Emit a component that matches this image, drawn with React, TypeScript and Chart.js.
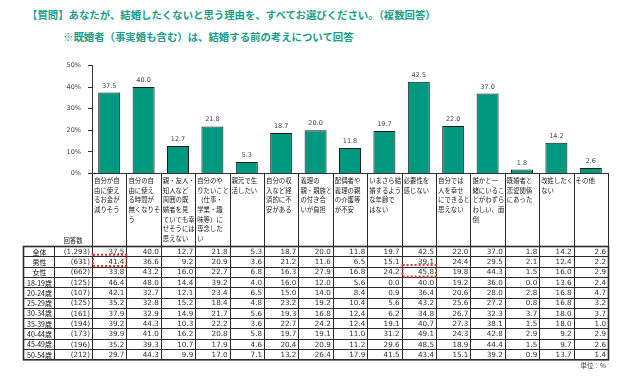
import React, { useEffect, useRef } from 'react';
import { Chart, registerables } from 'chart.js';
Chart.register(...registerables);

const categoryLines: string[][] = [
  ['自分が自', '由に使え', 'るお金が', '減りそう'],
  ['自分の自', '由に使え', 'る時間が', '無くなりそ', 'う'],
  ['親・友人・', '知人など', '周囲の既', '婚者を見', 'ていても幸', 'せそうには', '思えない'],
  ['自分のや', 'りたいこと', '（仕事・', '学業・趣', '味等）に', '専念した', 'い'],
  ['親元で生', '活したい'],
  ['自分の収', '入など経', '済的に不', '安がある'],
  ['義理の', '親・親族と', 'の付き合', 'いが負担'],
  ['配偶者や', '義理の親', 'の介護等', 'が不安'],
  ['いまさら結', '婚するよう', 'な年齢で', 'はない'],
  ['必要性を', '感じない'],
  ['自分では', '人を幸せ', 'にできると', '思えない'],
  ['誰かと一', '緒にいるこ', 'とがわずら', 'わしい、面', '倒'],
  ['既婚者と', '恋愛関係', 'にあった'],
  ['改姓したく', 'ない'],
  ['その他'],
];

const rowLabels = ['全体', '男性', '女性', '18-19歳', '20-24歳', '25-29歳', '30-34歳', '35-39歳', '40-44歳', '45-49歳', '50-54歳'];
const rowCounts = ['(1,293)', '(631)', '(662)', '(125)', '(107)', '(125)', '(161)', '(194)', '(173)', '(196)', '(212)'];

const rowAll = [37.5, 40.0, 12.7, 21.8, 5.3, 18.7, 20.0, 11.8, 19.7, 42.5, 22.0, 37.0, 1.8, 14.2, 2.6];
const rowMale = [41.4, 36.6, 9.2, 20.9, 3.6, 21.2, 11.6, 6.5, 15.1, 39.1, 24.4, 29.5, 2.1, 12.4, 2.2];
const rowFemale = [33.8, 43.2, 16.0, 22.7, 6.8, 16.3, 27.9, 16.8, 24.2, 45.8, 19.8, 44.3, 1.5, 16.0, 2.9];
const row18_19 = [46.4, 48.0, 14.4, 39.2, 4.0, 16.0, 12.0, 5.6, 0.0, 40.0, 19.2, 36.0, 0.0, 13.6, 2.4];
const row20_24 = [42.1, 32.7, 12.1, 23.4, 6.5, 15.0, 14.0, 8.4, 0.9, 36.4, 20.6, 28.0, 2.8, 16.8, 4.7];
const row25_29 = [35.2, 32.8, 15.2, 18.4, 4.8, 23.2, 19.2, 10.4, 5.6, 43.2, 25.6, 27.2, 0.8, 16.8, 3.2];
const row30_34 = [37.9, 32.9, 14.9, 21.7, 5.6, 19.3, 16.8, 12.4, 6.2, 34.8, 26.7, 32.3, 3.7, 18.0, 3.7];
const row35_39 = [39.2, 44.3, 10.3, 22.2, 3.6, 22.7, 24.2, 12.4, 19.1, 40.7, 27.3, 38.1, 1.5, 18.0, 1.0];
const row40_44 = [39.9, 41.0, 16.2, 20.8, 5.8, 19.7, 19.1, 11.0, 31.2, 49.1, 24.3, 42.8, 2.9, 9.2, 2.9];
const row45_49 = [35.2, 39.3, 10.7, 17.9, 4.6, 20.4, 20.9, 11.2, 29.6, 48.5, 18.9, 44.4, 1.5, 9.7, 2.6];
const row50_54 = [29.7, 44.3, 9.9, 17.0, 7.1, 13.2, 26.4, 17.9, 41.5, 43.4, 15.1, 39.2, 0.9, 13.7, 1.4];

const tableRows = [rowAll, rowMale, rowFemale, row18_19, row20_24, row25_29, row30_34, row35_39, row40_44, row45_49, row50_54];

// highlighted cells: [rowIndex, columnIndex]
const highlights: [number, number][] = [[1, 0], [2, 9]];

const JP = '"Noto Sans CJK JP", sans-serif';
const NUM = '"DejaVu Sans", sans-serif';

const TABLE_TOP = 246;
const ROW_H = 10.3;
const LABEL_L = 23;
const LABEL_R = 54;

const labelPlugin = {
  id: 'barLabels',
  afterDatasetsDraw(chart: any) {
    const ctx = chart.ctx;
    const meta = chart.getDatasetMeta(0);
    ctx.save();
    ctx.font = `6.5px ${NUM}`;
    ctx.fillStyle = '#444';
    ctx.textAlign = 'center';
    ctx.textBaseline = 'alphabetic';
    meta.data.forEach((el: any, i: number) => {
      ctx.fillText(rowAll[i].toFixed(1), el.x, el.y - 5);
    });
    ctx.restore();
  },
};

const tablePlugin = {
  id: 'dataTable',
  afterDraw(chart: any) {
    const ctx = chart.ctx;
    const xs = chart.scales.x;
    const area = chart.chartArea;
    const n = categoryLines.length;
    const colW = (area.right - area.left) / n;
    const colLeft = (i: number) => xs.getPixelForValue(i) - colW / 2;
    const colRight = (i: number) => xs.getPixelForValue(i) + colW / 2;
    const nRows = tableRows.length;
    const bottom = TABLE_TOP + nRows * ROW_H;
    ctx.save();

    // header text
    ctx.fillStyle = '#222';
    ctx.font = `6.4px ${JP}`;
    ctx.textAlign = 'left';
    ctx.textBaseline = 'middle';
    categoryLines.forEach((lines, i) => {
      lines.forEach((ln, j) => {
        ctx.fillText(ln, colLeft(i) + 2, area.bottom + 7 + j * 9.7);
      });
    });
    ctx.textAlign = 'center';
    ctx.fillText('回答数', (LABEL_R + area.left) / 2, TABLE_TOP - 5);

    // lines
    ctx.strokeStyle = '#2a2a2a';
    ctx.lineWidth = 1;
    ctx.beginPath();
    for (let i = 0; i <= n; i++) {
      const x = Math.round(i < n ? colLeft(i) : colRight(n - 1)) + 0.5;
      ctx.moveTo(x, area.bottom);
      ctx.lineTo(x, bottom);
    }
    for (const x of [LABEL_L, LABEL_R]) {
      ctx.moveTo(x + 0.5, TABLE_TOP);
      ctx.lineTo(x + 0.5, bottom);
    }
    for (let r = 0; r <= nRows; r++) {
      const y = Math.round(TABLE_TOP + r * ROW_H) + 0.5;
      ctx.moveTo(LABEL_L, y);
      ctx.lineTo(colRight(n - 1) + 1, y);
    }
    ctx.stroke();
    ctx.lineWidth = 1.6;
    ctx.strokeRect(LABEL_L + 0.5, TABLE_TOP + 0.5, colRight(n - 1) - LABEL_L, bottom - TABLE_TOP);

    // row text
    ctx.textBaseline = 'middle';
    tableRows.forEach((row, r) => {
      const yc = TABLE_TOP + r * ROW_H + ROW_H / 2 + 0.8;
      ctx.fillStyle = '#111';
      ctx.textAlign = 'center';
      ctx.font = `7px ${JP}`;
      ctx.fillText(rowLabels[r], (LABEL_L + LABEL_R) / 2 + 1, yc);
      ctx.textAlign = 'right';
      ctx.font = `7.2px ${NUM}`;
      ctx.fillStyle = '#333';
      ctx.fillText(rowCounts[r], area.left - 2, yc);
      row.forEach((v, i) => {
        ctx.fillText(v.toFixed(1), colRight(i) - 2, yc);
      });
    });

    // highlights
    ctx.strokeStyle = '#e03a2e';
    ctx.lineWidth = 2;
    ctx.setLineDash([2, 2]);
    highlights.forEach(([r, c]) => {
      const y0 = TABLE_TOP + r * ROW_H - 1.5;
      ctx.strokeRect(colLeft(c) + 1, y0, colW - 1, ROW_H + 1);
    });
    ctx.setLineDash([]);

    // unit
    ctx.fillStyle = '#444';
    ctx.textAlign = 'right';
    ctx.font = `6.5px ${JP}`;
    ctx.fillText('単位：%', colRight(n - 1) - 2, bottom + 6);
    ctx.restore();
  },
};

export default function App() {
  const ref = useRef<HTMLCanvasElement | null>(null);
  useEffect(() => {
    if (!ref.current) return;
    const chart = new Chart(ref.current, {
      type: 'bar',
      data: {
        labels: categoryLines.map((l) => l.join('')),
        datasets: [
          {
            data: rowAll,
            backgroundColor: '#00987f',
            borderColor: '#1a1a1a',
            borderWidth: 1,
            barPercentage: 0.64,
            categoryPercentage: 1,
          },
        ],
      },
      options: {
        animation: false,
        responsive: true,
        maintainAspectRatio: false,
        layout: { padding: { left: 0, right: 12, top: 65.5, bottom: 0 } },
        plugins: { legend: { display: false }, tooltip: { enabled: false }, title: { display: false } },
        scales: {
          x: {
            ticks: { display: false },
            grid: { display: false },
            border: { display: true, color: '#333', width: 1 },
            afterFit(s: any) {
              s.height = 384 - 173.5;
            },
          },
          y: {
            min: 0,
            max: 50,
            ticks: {
              stepSize: 10,
              callback: (v: any) => v + '%',
              font: { size: 6.5, family: NUM },
              color: '#444',
              padding: 7,
            },
            grid: { drawOnChartArea: false, drawTicks: true, tickLength: 4, color: '#333' },
            border: { display: true, color: '#333', width: 1 },
            afterFit(s: any) {
              s.width = 92;
            },
          },
        },
      },
      plugins: [labelPlugin, tablePlugin],
    });
    return () => chart.destroy();
  }, []);

  const titleStyle: React.CSSProperties = {
    position: 'absolute',
    fontFamily: JP,
    fontWeight: 700,
    fontSize: '10.4px',
    lineHeight: '14px',
    color: '#1a9e8b',
    whiteSpace: 'nowrap',
    margin: 0,
  };

  return (
    <div style={{ position: 'fixed', left: 0, top: 0, width: 620, height: 384, background: '#fff' }}>
      <div style={{ ...titleStyle, left: 27, top: 8 }}>【質問】あなたが、結婚したくないと思う理由を、すべてお選びください。（複数回答）</div>
      <div style={{ ...titleStyle, left: 63, top: 30 }}>※既婚者（事実婚も含む）は、結婚する前の考えについて回答</div>
      <canvas ref={ref} style={{ position: 'absolute', left: 0, top: 0, width: 620, height: 384 }} />
    </div>
  );
}
